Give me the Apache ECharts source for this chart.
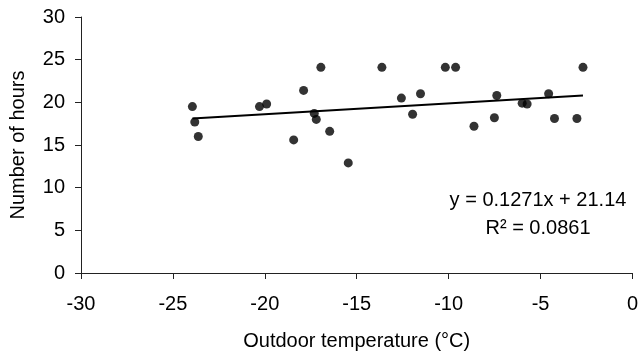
<!DOCTYPE html>
<html>
<head>
<meta charset="utf-8">
<script src="https://cdn.jsdelivr.net/npm/echarts@6/dist/echarts.min.js"></script>
<style>
  html, body { margin: 0; padding: 0; background: #fff; }
  #main { width: 641px; height: 356px; }
</style>
</head>
<body>
<div id="main"></div>
<script>
// outdoor temperature (degC) and number of hours
let temps = [-23.94, -23.81, -23.62, -20.29, -19.90, -18.43, -17.89, -17.31, -17.20, -16.95,
  -16.47, -15.46, -13.63, -12.57, -11.96, -11.53, -10.18, -9.62, -8.62, -7.51,
  -7.38, -6.00, -5.73, -4.56, -4.24, -3.02, -2.69];
let hours = [19.5, 17.7, 16.0, 19.5, 19.8, 15.6, 21.4, 18.7, 18.0, 24.1,
  16.6, 12.9, 24.1, 20.5, 18.6, 21.0, 24.1, 24.1, 17.2, 18.2,
  20.8, 19.9, 19.8, 21.0, 18.1, 18.1, 24.1];
let slope = 0.1271;
let intercept = 21.14;
let rSquared = "0.0861";

let font = "Liberation Sans";
let points = temps.map((t, i) => [t, hours[i]]);
let xMin = Math.min(...temps);
let xMax = Math.max(...temps);
let trend = [[xMin, slope * xMin + intercept], [xMax, slope * xMax + intercept]];

let options = {
  animation: false,
  backgroundColor: "#fff",
  grid: { left: 78, right: 6, top: 17, bottom: 81 },
  xAxis: {
    type: "value",
    min: -30, max: 0, interval: 5,
    name: "Outdoor temperature (°C)",
    nameLocation: "middle",
    nameGap: 58,
    nameTextStyle: { fontFamily: font, fontSize: 20, color: "#000" },
    axisLine: { onZero: false, lineStyle: { color: "#222", width: 1 } },
    axisTick: { length: 6, lineStyle: { color: "#222" } },
    axisLabel: { fontFamily: font, fontSize: 20, color: "#000", margin: 21 },
    splitLine: { show: false },
  },
  yAxis: {
    type: "value",
    min: 0, max: 30, interval: 5,
    name: "Number of hours",
    nameLocation: "middle",
    nameGap: 53,
    nameTextStyle: { fontFamily: font, fontSize: 20, color: "#000" },
    axisLine: { show: true, onZero: false, lineStyle: { color: "#222", width: 1 } },
    axisTick: { show: true, length: 6, lineStyle: { color: "#222" } },
    axisLabel: { fontFamily: font, fontSize: 20, color: "#000", margin: 16 },
    splitLine: { show: false },
  },
  series: [
    {
      type: "scatter",
      data: points,
      symbolSize: 9,
      itemStyle: { color: "#000" },
      z: 3,
    },
    {
      type: "line",
      data: trend,
      symbol: "none",
      lineStyle: { color: "#000", width: 2 },
      z: 2,
    },
  ],
  graphic: [
    {
      type: "text",
      x: 538,
      y: 186,
      style: {
        text: "y = " + slope + "x + " + intercept + "\nR² = " + rSquared,
        font: "20px " + font,
        fill: "#000",
        align: "center",
        verticalAlign: "top",
        lineHeight: 28,
      },
    },
  ],
};

let myChart = echarts.init(document.getElementById("main"));
myChart.setOption(options);
</script>
</body>
</html>
